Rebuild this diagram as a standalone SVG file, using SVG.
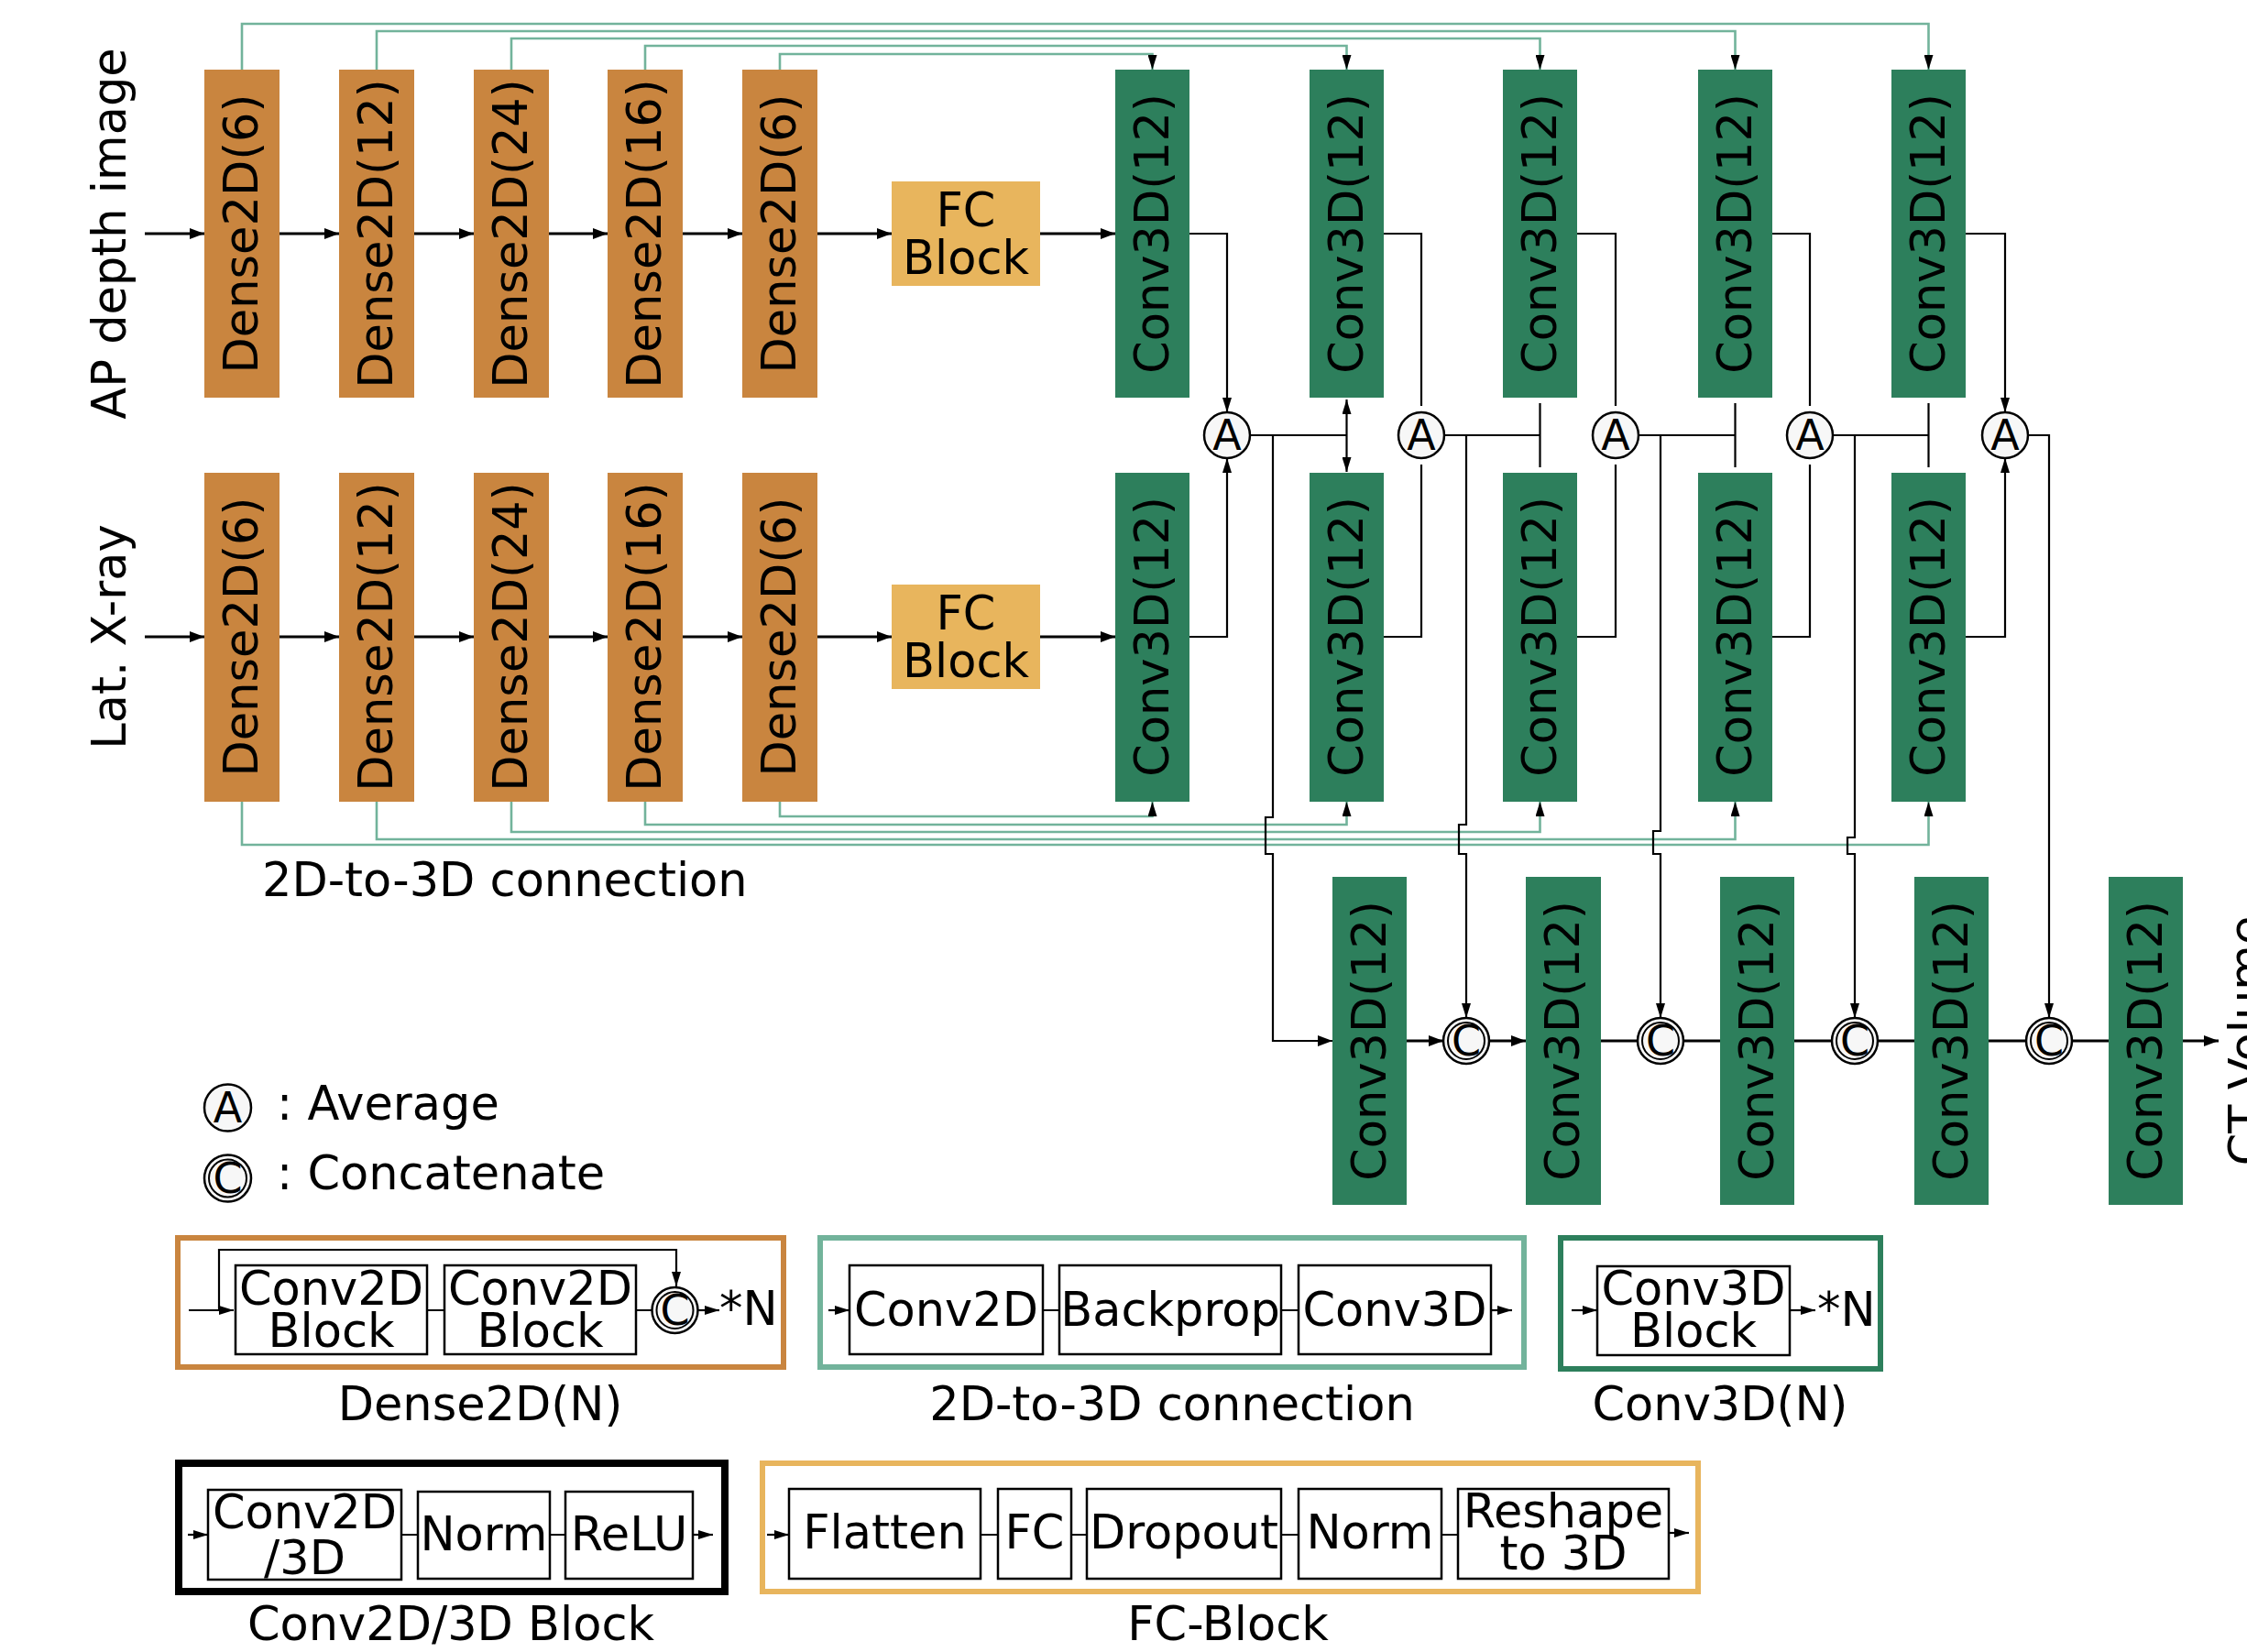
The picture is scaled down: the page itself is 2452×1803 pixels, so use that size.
<svg xmlns="http://www.w3.org/2000/svg" width="2452" height="1803" viewBox="0 0 2452 1803">
<defs>
<marker id="ah" markerUnits="userSpaceOnUse" markerWidth="16" markerHeight="12" refX="16" refY="6" orient="auto"><path d="M0,0 L16,6 L0,12 z" fill="#000"/></marker>
<marker id="as" markerUnits="userSpaceOnUse" markerWidth="16" markerHeight="10" refX="16" refY="5" orient="auto"><path d="M0,0 L16,5 L0,10 z" fill="#000"/></marker>
<style>
text{font-family:"DejaVu Sans","Liberation Sans",sans-serif;font-size:51px;fill:#000}
.dense{fill:#c9853f}
.conv{fill:#2d7f5c}
.fc{fill:#e8b55d}
.vl{text-anchor:middle}
.mid{text-anchor:middle}
.main{fill:none;stroke:#000;stroke-width:3}
.thin{fill:none;stroke:#000;stroke-width:2.2}
.green{fill:none;stroke:#72b39b;stroke-width:2.6}
.op{fill:#f7f7f7;stroke:#000;stroke-width:2.5}
.inner{fill:none;stroke:#000;stroke-width:2}
.opl{text-anchor:middle;font-size:46px}
.lbox{fill:#fff;stroke:#000;stroke-width:2.5}
</style>
</defs>

<!-- side labels -->
<g id="lbl-ap"><text class="vl" transform="translate(137,255) rotate(-90)">AP depth image</text></g>
<g id="lbl-lat"><text class="vl" transform="translate(137,695) rotate(-90)">Lat. X-ray</text></g>
<g id="lbl-ct"><text class="vl" transform="translate(2469,1136) rotate(-90)">CT Volume</text></g>
<g id="lbl-conn"><text x="286" y="978">2D-to-3D connection</text></g>

<!-- connectors -->
<g id="connectors">
<g class="green">
<path d="M264,76 V26 H2104.5 V76" marker-end="url(#as)"/>
<path d="M411,76 V34 H1893.5 V76" marker-end="url(#as)"/>
<path d="M558,76 V42 H1680.5 V76" marker-end="url(#as)"/>
<path d="M704,76 V50 H1469.5 V76" marker-end="url(#as)"/>
<path d="M851,76 V59 H1257.5 V76" marker-end="url(#as)"/>
<path d="M264,875 V922 H2104.5 V875" marker-end="url(#as)"/>
<path d="M411,875 V916 H1893.5 V875" marker-end="url(#as)"/>
<path d="M558,875 V908 H1680.5 V875" marker-end="url(#as)"/>
<path d="M704,875 V900 H1469.5 V875" marker-end="url(#as)"/>
<path d="M851,875 V891 H1257.5 V875" marker-end="url(#as)"/>
</g>
<g class="main">
<path d="M158,255 H223" marker-end="url(#ah)"/>
<path d="M305,255 H370" marker-end="url(#ah)"/>
<path d="M452,255 H517" marker-end="url(#ah)"/>
<path d="M599,255 H663" marker-end="url(#ah)"/>
<path d="M745,255 H810" marker-end="url(#ah)"/>
<path d="M892,255 H973" marker-end="url(#ah)"/>
<path d="M1135,255 H1217" marker-end="url(#ah)"/>
<path d="M158,695 H223" marker-end="url(#ah)"/>
<path d="M305,695 H370" marker-end="url(#ah)"/>
<path d="M452,695 H517" marker-end="url(#ah)"/>
<path d="M599,695 H663" marker-end="url(#ah)"/>
<path d="M745,695 H810" marker-end="url(#ah)"/>
<path d="M892,695 H973" marker-end="url(#ah)"/>
<path d="M1135,695 H1217" marker-end="url(#ah)"/>
</g>
<g class="thin">
<path d="M1298,255 H1339 V450" marker-end="url(#as)"/>
<path d="M1298,695 H1339 V500" marker-end="url(#as)"/>
<path d="M1510,255 H1551 V443"/>
<path d="M1510,695 H1551 V507"/>
<path d="M1721,255 H1763 V443"/>
<path d="M1721,695 H1763 V507"/>
<path d="M1934,255 H1975 V443"/>
<path d="M1934,695 H1975 V507"/>
<path d="M2145,255 H2188 V450" marker-end="url(#as)"/>
<path d="M2145,695 H2188 V500" marker-end="url(#as)"/>
<path d="M1364,475 H1469.5"/>
<path d="M1469.5,475 V436" marker-end="url(#as)"/>
<path d="M1469.5,475 V515" marker-end="url(#as)"/>
<path d="M1576,475 H1680.5 M1680.5,440 V510"/>
<path d="M1788,475 H1893.5 M1893.5,440 V510"/>
<path d="M2000,475 H2104.5 M2104.5,440 V510"/>
<path d="M2213,475 H2236 V1111" marker-end="url(#as)"/>
<path d="M1389,475 V892 H1381 V932 H1389 V1136 H1454" marker-end="url(#ah)"/>
<path d="M1600,475 V900 H1592 V932 H1600 V1111" marker-end="url(#as)"/>
<path d="M1812,475 V907 H1804 V932 H1812 V1111" marker-end="url(#as)"/>
<path d="M2024,475 V914 H2016 V932 H2024 V1111" marker-end="url(#as)"/>
</g>
<g class="main">
<path d="M1535,1136 H1575" marker-end="url(#ah)"/>
<path d="M1625,1136 H1665" marker-end="url(#ah)"/>
<path d="M1747,1136 H1787 M1837,1136 H1877 M1958,1136 H1999 M2049,1136 H2089 M2170,1136 H2211 M2261,1136 H2301"/>
<path d="M2382,1136 H2421" marker-end="url(#ah)"/>
</g>
</g>

<!-- dense 2D nodes -->
<g id="dense-ap-1"><rect class="dense" x="223" y="76" width="82" height="358"/><text class="vl" transform="translate(264,255) rotate(-90)" y="17">Dense2D(6)</text></g>
<g id="dense-ap-2"><rect class="dense" x="370" y="76" width="82" height="358"/><text class="vl" transform="translate(411,255) rotate(-90)" y="17">Dense2D(12)</text></g>
<g id="dense-ap-3"><rect class="dense" x="517" y="76" width="82" height="358"/><text class="vl" transform="translate(558,255) rotate(-90)" y="17">Dense2D(24)</text></g>
<g id="dense-ap-4"><rect class="dense" x="663" y="76" width="82" height="358"/><text class="vl" transform="translate(704,255) rotate(-90)" y="17">Dense2D(16)</text></g>
<g id="dense-ap-5"><rect class="dense" x="810" y="76" width="82" height="358"/><text class="vl" transform="translate(851,255) rotate(-90)" y="17">Dense2D(6)</text></g>
<g id="dense-lat-1"><rect class="dense" x="223" y="516" width="82" height="359"/><text class="vl" transform="translate(264,695) rotate(-90)" y="17">Dense2D(6)</text></g>
<g id="dense-lat-2"><rect class="dense" x="370" y="516" width="82" height="359"/><text class="vl" transform="translate(411,695) rotate(-90)" y="17">Dense2D(12)</text></g>
<g id="dense-lat-3"><rect class="dense" x="517" y="516" width="82" height="359"/><text class="vl" transform="translate(558,695) rotate(-90)" y="17">Dense2D(24)</text></g>
<g id="dense-lat-4"><rect class="dense" x="663" y="516" width="82" height="359"/><text class="vl" transform="translate(704,695) rotate(-90)" y="17">Dense2D(16)</text></g>
<g id="dense-lat-5"><rect class="dense" x="810" y="516" width="82" height="359"/><text class="vl" transform="translate(851,695) rotate(-90)" y="17">Dense2D(6)</text></g>

<!-- FC blocks -->
<g id="fc-ap"><rect class="fc" x="973" y="198" width="162" height="114"/><text class="mid" x="1054" y="247">FC</text><text class="mid" x="1054" y="299">Block</text></g>
<g id="fc-lat"><rect class="fc" x="973" y="638" width="162" height="114"/><text class="mid" x="1054" y="687">FC</text><text class="mid" x="1054" y="739">Block</text></g>

<!-- Conv3D top row -->
<g id="conv-ap-1"><rect class="conv" x="1217" y="76" width="81" height="358"/><text class="vl" transform="translate(1257.5,255) rotate(-90)" y="17">Conv3D(12)</text></g>
<g id="conv-ap-2"><rect class="conv" x="1429" y="76" width="81" height="358"/><text class="vl" transform="translate(1469.5,255) rotate(-90)" y="17">Conv3D(12)</text></g>
<g id="conv-ap-3"><rect class="conv" x="1640" y="76" width="81" height="358"/><text class="vl" transform="translate(1680.5,255) rotate(-90)" y="17">Conv3D(12)</text></g>
<g id="conv-ap-4"><rect class="conv" x="1853" y="76" width="81" height="358"/><text class="vl" transform="translate(1893.5,255) rotate(-90)" y="17">Conv3D(12)</text></g>
<g id="conv-ap-5"><rect class="conv" x="2064" y="76" width="81" height="358"/><text class="vl" transform="translate(2104.5,255) rotate(-90)" y="17">Conv3D(12)</text></g>
<!-- Conv3D middle row -->
<g id="conv-lat-1"><rect class="conv" x="1217" y="516" width="81" height="359"/><text class="vl" transform="translate(1257.5,695) rotate(-90)" y="17">Conv3D(12)</text></g>
<g id="conv-lat-2"><rect class="conv" x="1429" y="516" width="81" height="359"/><text class="vl" transform="translate(1469.5,695) rotate(-90)" y="17">Conv3D(12)</text></g>
<g id="conv-lat-3"><rect class="conv" x="1640" y="516" width="81" height="359"/><text class="vl" transform="translate(1680.5,695) rotate(-90)" y="17">Conv3D(12)</text></g>
<g id="conv-lat-4"><rect class="conv" x="1853" y="516" width="81" height="359"/><text class="vl" transform="translate(1893.5,695) rotate(-90)" y="17">Conv3D(12)</text></g>
<g id="conv-lat-5"><rect class="conv" x="2064" y="516" width="81" height="359"/><text class="vl" transform="translate(2104.5,695) rotate(-90)" y="17">Conv3D(12)</text></g>
<!-- Conv3D bottom row -->
<g id="conv-out-1"><rect class="conv" x="1454" y="957" width="81" height="358"/><text class="vl" transform="translate(1494.5,1136) rotate(-90)" y="17">Conv3D(12)</text></g>
<g id="conv-out-2"><rect class="conv" x="1665" y="957" width="82" height="358"/><text class="vl" transform="translate(1706,1136) rotate(-90)" y="17">Conv3D(12)</text></g>
<g id="conv-out-3"><rect class="conv" x="1877" y="957" width="81" height="358"/><text class="vl" transform="translate(1917.5,1136) rotate(-90)" y="17">Conv3D(12)</text></g>
<g id="conv-out-4"><rect class="conv" x="2089" y="957" width="81" height="358"/><text class="vl" transform="translate(2129.5,1136) rotate(-90)" y="17">Conv3D(12)</text></g>
<g id="conv-out-5"><rect class="conv" x="2301" y="957" width="81" height="358"/><text class="vl" transform="translate(2341.5,1136) rotate(-90)" y="17">Conv3D(12)</text></g>

<!-- Average ops -->
<g id="avg-1"><circle class="op" cx="1339" cy="475" r="25"/><text class="opl" x="1339" y="491">A</text></g>
<g id="avg-2"><circle class="op" cx="1551" cy="475" r="25"/><text class="opl" x="1551" y="491">A</text></g>
<g id="avg-3"><circle class="op" cx="1763" cy="475" r="25"/><text class="opl" x="1763" y="491">A</text></g>
<g id="avg-4"><circle class="op" cx="1975" cy="475" r="25"/><text class="opl" x="1975" y="491">A</text></g>
<g id="avg-5"><circle class="op" cx="2188" cy="475" r="25"/><text class="opl" x="2188" y="491">A</text></g>
<!-- Concatenate ops -->
<g id="cat-1"><circle class="op" cx="1600" cy="1136" r="25"/><circle class="inner" cx="1600" cy="1136" r="20"/><text class="opl" x="1600" y="1152">C</text></g>
<g id="cat-2"><circle class="op" cx="1812" cy="1136" r="25"/><circle class="inner" cx="1812" cy="1136" r="20"/><text class="opl" x="1812" y="1152">C</text></g>
<g id="cat-3"><circle class="op" cx="2024" cy="1136" r="25"/><circle class="inner" cx="2024" cy="1136" r="20"/><text class="opl" x="2024" y="1152">C</text></g>
<g id="cat-4"><circle class="op" cx="2236" cy="1136" r="25"/><circle class="inner" cx="2236" cy="1136" r="20"/><text class="opl" x="2236" y="1152">C</text></g>

<!-- legend symbols -->
<g id="legend-avg"><circle class="op" cx="248.5" cy="1209" r="25.5"/><text class="opl" x="248.5" y="1225">A</text><text x="302" y="1222">: Average</text></g>
<g id="legend-cat"><circle class="op" cx="248.5" cy="1286" r="25.5"/><circle class="inner" cx="248.5" cy="1286" r="20.5"/><text class="opl" x="248.5" y="1302">C</text><text x="302" y="1298">: Concatenate</text></g>

<!-- legend: Dense2D(N) -->
<g id="legend-dense">
<rect x="194" y="1351" width="661" height="141" fill="none" stroke="#c9853f" stroke-width="6"/>
<path class="thin" d="M206,1430 H255" marker-end="url(#as)"/>
<path class="thin" d="M239,1430 V1364 H738 V1404" marker-end="url(#as)"/>
<rect class="lbox" x="257" y="1381" width="209" height="97"/>
<rect class="lbox" x="485" y="1381" width="209" height="97"/>
<path class="thin" d="M466,1430 H485 M694,1430 H711"/>
<circle class="op" cx="736.5" cy="1430" r="25"/><circle class="inner" cx="736.5" cy="1430" r="20"/><text class="opl" x="736.5" y="1446">C</text>
<path class="thin" d="M762,1430 H785" marker-end="url(#as)"/>
<text x="785" y="1446">*N</text>
<text class="mid" x="361.5" y="1424">Conv2D</text><text class="mid" x="361.5" y="1470">Block</text>
<text class="mid" x="589.5" y="1424">Conv2D</text><text class="mid" x="589.5" y="1470">Block</text>
<text class="mid" x="524" y="1550">Dense2D(N)</text>
</g>

<!-- legend: 2D-to-3D connection -->
<g id="legend-conn">
<rect x="895" y="1351" width="768" height="141" fill="none" stroke="#72b39b" stroke-width="6"/>
<path class="thin" d="M904,1430 H927" marker-end="url(#as)"/>
<rect class="lbox" x="927" y="1381" width="211" height="97"/>
<rect class="lbox" x="1156" y="1381" width="242" height="97"/>
<rect class="lbox" x="1417" y="1381" width="210" height="97"/>
<path class="thin" d="M1138,1430 H1156 M1398,1430 H1417"/>
<path class="thin" d="M1627,1430 H1650" marker-end="url(#as)"/>
<text class="mid" x="1032.5" y="1447">Conv2D</text>
<text class="mid" x="1277" y="1447">Backprop</text>
<text class="mid" x="1522" y="1447">Conv3D</text>
<text class="mid" x="1279" y="1550">2D-to-3D connection</text>
</g>

<!-- legend: Conv3D(N) -->
<g id="legend-conv">
<rect x="1703" y="1351" width="349" height="143" fill="none" stroke="#2d7f5c" stroke-width="6"/>
<path class="thin" d="M1715,1430 H1743" marker-end="url(#as)"/>
<rect class="lbox" x="1743" y="1382" width="210" height="97"/>
<path class="thin" d="M1953,1430 H1981" marker-end="url(#as)"/>
<text class="mid" x="1848" y="1424">Conv3D</text><text class="mid" x="1848" y="1470">Block</text>
<text x="1983" y="1447">*N</text>
<text class="mid" x="1877" y="1550">Conv3D(N)</text>
</g>

<!-- legend: Conv2D/3D Block -->
<g id="legend-block">
<rect x="195" y="1597" width="596" height="140" fill="none" stroke="#000" stroke-width="8"/>
<path class="thin" d="M205,1675 H227" marker-end="url(#as)"/>
<rect class="lbox" x="227" y="1626" width="211" height="98"/>
<rect class="lbox" x="456" y="1628" width="144" height="95"/>
<rect class="lbox" x="617" y="1628" width="139" height="95"/>
<path class="thin" d="M438,1675 H456 M600,1675 H617"/>
<path class="thin" d="M756,1675 H778" marker-end="url(#as)"/>
<text class="mid" x="332.5" y="1668">Conv2D</text><text class="mid" x="332.5" y="1718">/3D</text>
<text class="mid" x="528" y="1692">Norm</text>
<text class="mid" x="686.5" y="1692">ReLU</text>
<text class="mid" x="492" y="1790">Conv2D/3D Block</text>
</g>

<!-- legend: FC-Block -->
<g id="legend-fc">
<rect x="832" y="1597" width="1021" height="140" fill="none" stroke="#e8b55d" stroke-width="6"/>
<path class="thin" d="M837,1675 H861" marker-end="url(#as)"/>
<rect class="lbox" x="861" y="1625" width="209" height="98"/>
<rect class="lbox" x="1089" y="1625" width="80" height="98"/>
<rect class="lbox" x="1186" y="1625" width="212" height="98"/>
<rect class="lbox" x="1417" y="1625" width="156" height="98"/>
<rect class="lbox" x="1591" y="1625" width="230" height="98"/>
<path class="thin" d="M1070,1675 H1089 M1169,1675 H1186 M1398,1675 H1417 M1573,1675 H1591"/>
<path class="thin" d="M1821,1673 H1843" marker-end="url(#as)"/>
<text class="mid" x="965.5" y="1690">Flatten</text>
<text class="mid" x="1129" y="1690">FC</text>
<text class="mid" x="1292" y="1690">Dropout</text>
<text class="mid" x="1495" y="1690">Norm</text>
<text class="mid" x="1706" y="1667">Reshape</text><text class="mid" x="1706" y="1713">to 3D</text>
<text class="mid" x="1340" y="1790">FC-Block</text>
</g>
</svg>
